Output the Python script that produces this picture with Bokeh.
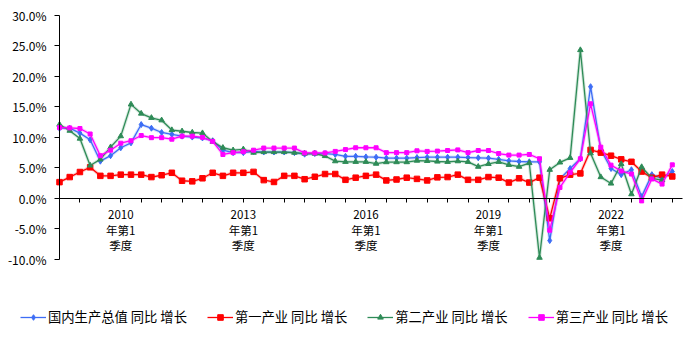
from bokeh.plotting import figure
from bokeh.models import Range1d, FixedTicker, Legend, LegendItem, ColumnDataSource
from bokeh.embed import file_html
from bokeh.resources import INLINE

# ---- data (quarterly) ----
gdp = [11.5, 11.5, 10.7, 9.6, 6.1, 7.0, 8.3, 9.1, 12.1, 11.5, 10.8, 10.5, 10.2, 10.05, 9.9, 9.45,
       7.9, 7.5, 7.5, 7.7, 7.6, 7.6, 7.6, 7.5, 7.25, 7.35, 7.35, 7.2, 6.9, 6.9, 6.8, 6.75,
       6.6, 6.6, 6.6, 6.7, 6.75, 6.75, 6.75, 6.75, 6.7, 6.65, 6.6, 6.4, 6.15, 6.05, 6.0, 6.0,
       -6.9, 3.2, 4.9, 6.5, 18.3, 8.0, 4.9, 3.9, 4.7, 0.3, 3.9, 3.3, 4.4]
primary = [2.67, 3.5, 4.33, 5.1, 3.7, 3.7, 3.9, 3.9, 3.9, 3.5, 3.8, 4.2, 2.9, 2.8, 3.3, 4.2,
           3.7, 4.2, 4.2, 4.35, 3.0, 2.7, 3.7, 3.7, 3.15, 3.55, 4.0, 4.0, 3.05, 3.4, 3.7, 3.9,
           2.95, 3.1, 3.4, 3.2, 2.95, 3.45, 3.5, 3.9, 3.05, 3.05, 3.5, 3.4, 2.6, 3.3, 2.6, 3.4,
           -3.25, 3.3, 3.9, 4.1, 7.95, 7.5, 7.0, 6.4, 6.0, 4.4, 3.4, 3.9, 3.6]
secondary = [12.1, 11.1, 9.8, 5.4, 6.4, 8.4, 10.2, 15.4, 13.9, 13.2, 12.8, 11.2, 11.0, 10.8, 10.7, 9.3,
             8.3, 7.9, 8.05, 7.5, 7.6, 7.6, 7.6, 7.5, 7.35, 7.35, 6.95, 6.1, 6.0, 6.0, 6.0, 5.7,
             5.95, 5.95, 5.95, 6.2, 6.15, 6.05, 6.0, 6.1, 6.0, 5.2, 5.65, 6.0, 5.5, 5.2, 5.8, -9.7,
             4.7, 5.9, 6.65, 24.3, 7.4, 3.5, 2.45, 5.65, 0.7, 5.15, 3.3, 3.0]
tertiary = [11.6, 11.55, 11.45, 10.55, 7.0, 7.9, 9.05, 9.45, 10.3, 9.95, 9.95, 9.7, 10.2, 10.2, 10.0, 9.35,
            7.2, 7.5, 7.65, 7.9, 8.25, 8.25, 8.25, 8.25, 7.45, 7.45, 7.45, 7.7, 8.0, 8.3, 8.3, 8.3,
            7.5, 7.5, 7.5, 7.8, 7.7, 7.75, 7.85, 7.95, 7.5, 7.85, 7.85, 7.35, 7.1, 7.1, 7.2, 6.5,
            -5.2, 1.8, 4.25, 6.5, 15.5, 8.4, 5.45, 4.5, 4.0, -0.4, 3.2, 2.35, 5.5]

series_names = ["国内生产总值 同比 增长", "第一产业 同比 增长", "第二产业 同比 增长", "第三产业 同比 增长"]
n_categories = 62
label_positions = [6, 18, 30, 42, 54]
label_years = ["2010", "2013", "2016", "2019", "2022"]
y_ticks = [-10, -5, 0, 5, 10, 15, 20, 25, 30]
y_tick_labels = ["-10.0%", "-5.0%", "0.0%", "5.0%", "10.0%", "15.0%", "20.0%", "25.0%", "30.0%"]

FONT = "Noto Sans CJK SC"

# plot frame fills the whole figure; axes float at x=0 / y=0 (with bounds),
# leaving room left of the y axis and under the chart for the legend.
W, H = 684, 343
x_lo, x_hi = -5.777, 61.196
y_lo, y_hi = -23.75, 32.41

p = figure(width=W, height=H, output_backend="svg", toolbar_location=None,
           x_range=Range1d(x_lo, x_hi), y_range=Range1d(y_lo, y_hi),
           min_border_left=0, min_border_right=0, min_border_top=0, min_border_bottom=0)
p.outline_line_color = None
p.xgrid.visible = False
p.ygrid.visible = False

# y axis at x = 0
p.yaxis.fixed_location = 0
p.yaxis.bounds = (y_ticks[0], y_ticks[-1])
p.yaxis.ticker = FixedTicker(ticks=y_ticks)
p.yaxis.major_label_overrides = dict(zip(y_ticks, y_tick_labels))
p.yaxis.minor_tick_line_color = None
p.yaxis.major_tick_in = 0
p.yaxis.major_tick_out = 5
p.yaxis.major_label_standoff = 8
p.yaxis.axis_line_color = "black"
p.yaxis.major_tick_line_color = "black"
p.yaxis.major_label_text_font = FONT
p.yaxis.major_label_text_font_size = "12px"
p.yaxis.major_label_text_color = "black"

# x axis at y = 0
xt = list(range(0, n_categories - 1, 2))
p.xaxis.fixed_location = 0
p.xaxis.bounds = (0, n_categories - 1)
p.xaxis.ticker = FixedTicker(ticks=xt)
overrides = {t: "" for t in xt}
for pos, yr in zip(label_positions, label_years):
    overrides[pos] = yr + "\n年第1\n季度"
p.xaxis.major_label_overrides = overrides
p.xaxis.minor_tick_line_color = None
p.xaxis.major_tick_in = 0
p.xaxis.major_tick_out = 4
p.xaxis.major_label_standoff = 4
p.xaxis.axis_line_color = "black"
p.xaxis.major_tick_line_color = "black"
p.xaxis.major_label_text_font = FONT
p.xaxis.major_label_text_font_size = "11.5px"
p.xaxis.major_label_text_line_height = 0.95
p.xaxis.major_label_text_color = "black"

styles = [
    (gdp, "#3D6DF5", "diamond", 6),
    (primary, "#FF0000", "square", 5.5),
    (secondary, "#2E8B57", "triangle", 5.5),
    (tertiary, "#FF00FF", "square", 4),
]

items = []
for (vals, color, marker, size), name in zip(styles, series_names):
    src = ColumnDataSource(dict(x=list(range(len(vals))), y=vals))
    p.line("x", "y", source=src, line_color=color, line_width=3.2, line_alpha=0.2)
    r1 = p.line("x", "y", source=src, line_color=color, line_width=1.3)
    r2 = p.scatter("x", "y", source=src, marker=marker, size=size,
                   fill_color=color, line_color=color)
    items.append(LegendItem(label=name, renderers=[r1, r2]))

legend = Legend(items=items, orientation="horizontal", location=(20, 17),
                glyph_width=26, glyph_height=14, label_standoff=2, spacing=20,
                padding=0, margin=0, border_line_color=None, background_fill_alpha=0,
                label_text_font=FONT, label_text_font_size="13.3px", label_text_color="black",
                label_height=16)
p.add_layout(legend, "center")

open("out.html", "w").write(file_html(p, INLINE))
